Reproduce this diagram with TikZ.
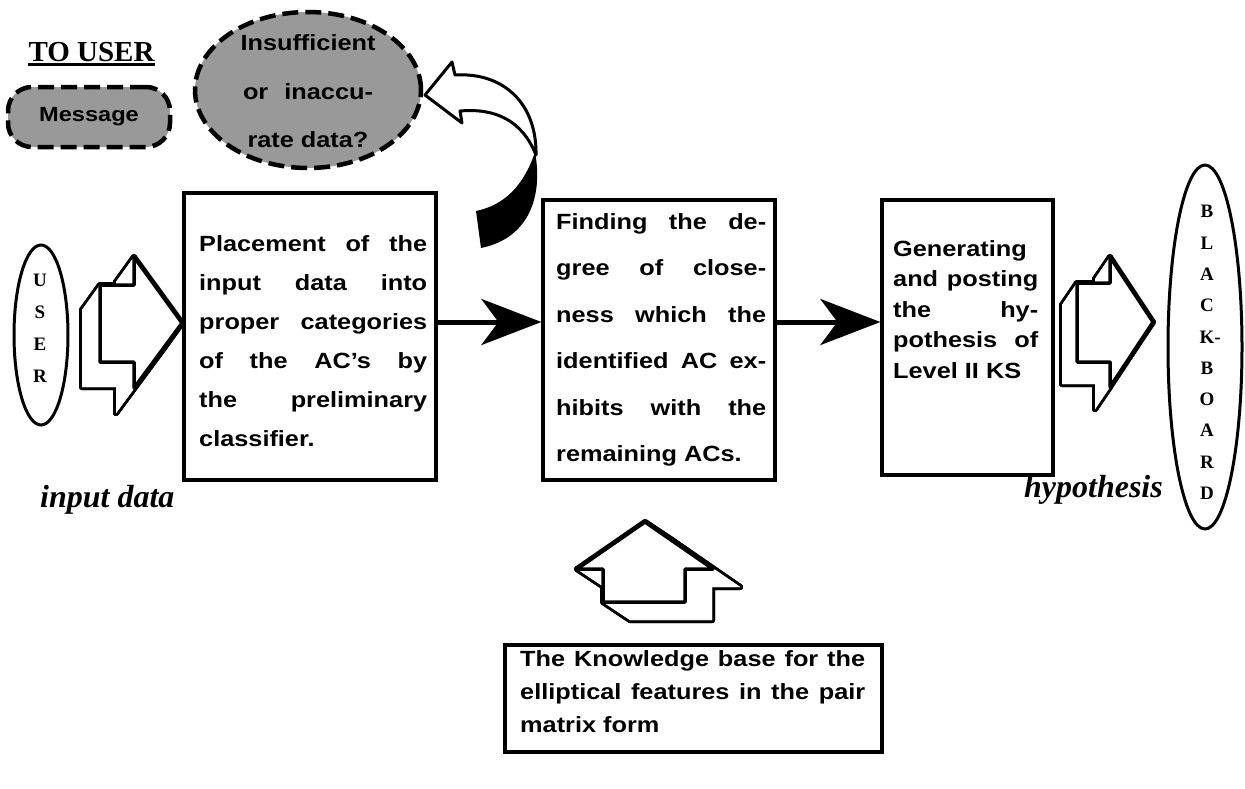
\documentclass[tikz,border=0pt]{standalone}
\usepackage{fontspec}
\usetikzlibrary{shapes.geometric,arrows.meta}
\newfontfamily\hv{Liberation Sans}[FakeStretch=1.15]
\newfontfamily\tms{Liberation Serif}
\newcommand\jl[2]{\makebox[#1pt][s]{#2}}
% extruded block arrow: #1 front path, #2 dx, #3 dy, #4 x0, #5 y0, #6 remaining points (closing on x0/y0)
\newcommand\ExtArrow[6]{%
  \foreach \x/\y [remember=\x as \lx (initially #4), remember=\y as \ly (initially #5)] in {#6}
    {\draw[line width=6pt, line join=round] (\lx,\ly) -- (\x,\y) -- ++(#2,#3) -- ++(\lx-\x,\ly-\y) -- cycle;}
  \draw[line width=6pt, line join=round, shift={(#2,#3)}] #1 -- cycle;
  \foreach \x/\y [remember=\x as \lx (initially #4), remember=\y as \ly (initially #5)] in {#6}
    {\fill[white] (\lx,\ly) -- (\x,\y) -- ++(#2,#3) -- ++(\lx-\x,\ly-\y) -- cycle;}
  \fill[white, shift={(#2,#3)}] #1 -- cycle;
  \draw[line width=3.5pt, line join=round, fill=white] #1 -- cycle;
}
\tikzset{
  box/.style={draw, line width=3.2pt, inner sep=0pt},
  bodytext/.style={align=left, inner sep=0pt, anchor=north west},
  conn/.style={line width=5pt, -{Stealth[length=60pt,width=46pt,inset=17pt]}},
  grayshape/.style={draw, line width=4.5pt, dash pattern=on 16pt off 7pt, fill=black!40, inner sep=0pt},
  oval/.style={draw, ellipse, line width=3pt, inner sep=0pt},
  letters/.style={align=center, inner sep=0pt, font={\fontsize{19}{32}\selectfont\tms\bfseries}},
}
\begin{document}
\begin{tikzpicture}[x=1pt,y=-1pt]
\useasboundingbox (0,0) rectangle (1245,788);

% block arrows
\ExtArrow{(100,285) -- (134,285) -- (134,257) -- (182,323) -- (134,388) -- (134,362) -- (100,362)}{-18}{25}{100}{285}{134/285,134/257,182/323,134/388,134/362,100/362,100/285}
\ExtArrow{(1077,283) -- (1110,283) -- (1110,257) -- (1153,322) -- (1110,387) -- (1110,362) -- (1077,362)}{-15}{22}{1077}{283}{1110/283,1110/257,1153/322,1110/387,1110/362,1077/362,1077/283}
\ExtArrow{(645,522) -- (713,569) -- (685,569) -- (685,602) -- (603,602) -- (603,569) -- (577,569)}{27}{18}{645}{522}{713/569,685/569,685/602,603/602,603/569,577/569,645/522}

% boxes
\node[box, minimum width=252pt, minimum height=287pt] (b1) at (310,336.5) {};
\node[box, minimum width=232pt, minimum height=280pt] (b2) at (659,340) {};
\node[box, minimum width=171pt, minimum height=275pt] (b3) at (967.5,337.5) {};
\node[box, minimum width=377pt, minimum height=107pt] (b4) at (693.5,698.5) {};

\node[bodytext, font={\fontsize{22}{39}\selectfont\hv\bfseries}] (t1) at (199,235)
  {\jl{228}{Placement of the}\\ \jl{228}{input data into}\\ \jl{228}{proper categories}\\ \jl{228}{of the AC’s by}\\ \jl{228}{the preliminary}\\ classifier.};
\node[bodytext, font={\fontsize{22}{46.5}\selectfont\hv\bfseries}] (t2) at (556,213)
  {\jl{210}{Finding the de-}\\ \jl{210}{gree of close-}\\ \jl{210}{ness which the}\\ \jl{210}{identified AC ex-}\\ \jl{210}{hibits with the}\\ remaining ACs.};
\node[bodytext, font={\fontsize{22}{30.5}\selectfont\hv\bfseries}] (t3) at (893,240)
  {Generating\\ \jl{145}{and posting}\\ \jl{145}{the hy-}\\ \jl{145}{pothesis of}\\ Level II KS};
\node[bodytext, font={\fontsize{22}{33}\selectfont\hv\bfseries}] (t4) at (520,650)
  {\jl{345}{The Knowledge base for the}\\ \jl{345}{elliptical features in the pair}\\ matrix form};

% connectors
\coordinate (ay) at (0,322);
\draw[conn] (b1.east |- ay) -- (b2.west |- ay);
\draw[conn] (b2.east |- ay) -- (b3.west |- ay);

% user / blackboard
\node[oval, minimum width=54pt, minimum height=180pt] (user) at (41,335) {};
\node[letters] (userl) at (40,328.5) {U\\S\\E\\R};
\node[oval, minimum width=74pt, minimum height=364pt] (bb) at (1205,347) {};
\node[letters, font={\fontsize{19}{31.3}\selectfont\tms\bfseries}] (bbl) at (1207,352.5) {B\\L\\A\\C\\K\rlap{-}\\B\\O\\A\\R\\D};

\node[inner sep=0pt, anchor=base west, font={\fontsize{32}{36}\selectfont\tms\bfseries\itshape}] (inp) at (40,507) {input data};
\node[inner sep=0pt, anchor=base east, font={\fontsize{32}{36}\selectfont\tms\bfseries\itshape}] (hyp) at (1163,497) {hypothesis};

% to user
\node[inner sep=0pt, anchor=base, font={\fontsize{29}{34}\selectfont\tms\bfseries}] (tu) at (91.5,61) {TO USER};
\draw[line width=3pt] ([yshift=-3pt]tu.base west) -- ([yshift=-3pt]tu.base east);
\node[grayshape, rounded corners=24pt, minimum width=162pt, minimum height=60pt, font={\fontsize{20.5}{24}\selectfont\hv\bfseries}] (msg) at (89,117) {Message};
\node[grayshape, ellipse, minimum width=226pt, minimum height=156pt] (ins) at (308,90) {};
\node[align=center, inner sep=0pt, font={\fontsize{22}{48.5}\selectfont\hv\bfseries}] (inst) at (308,91.5)
  {Insufficient\\ \jl{130}{or inaccu-}\\ rate data?};

% curved feedback arrow
\draw[line width=3pt, line join=round, fill=white] (455,75) -- (452,62) -- (425,95) -- (462,123) -- (460,111)
  .. controls (495,108) and (522,120) .. (536,155)
  .. controls (537,105) and (505,72) .. cycle;
\fill (535,152) .. controls (543,195) and (530,238) .. (481,248) -- (476,211) .. controls (505,205) and (524,185) .. cycle;
\end{tikzpicture}
\end{document}
